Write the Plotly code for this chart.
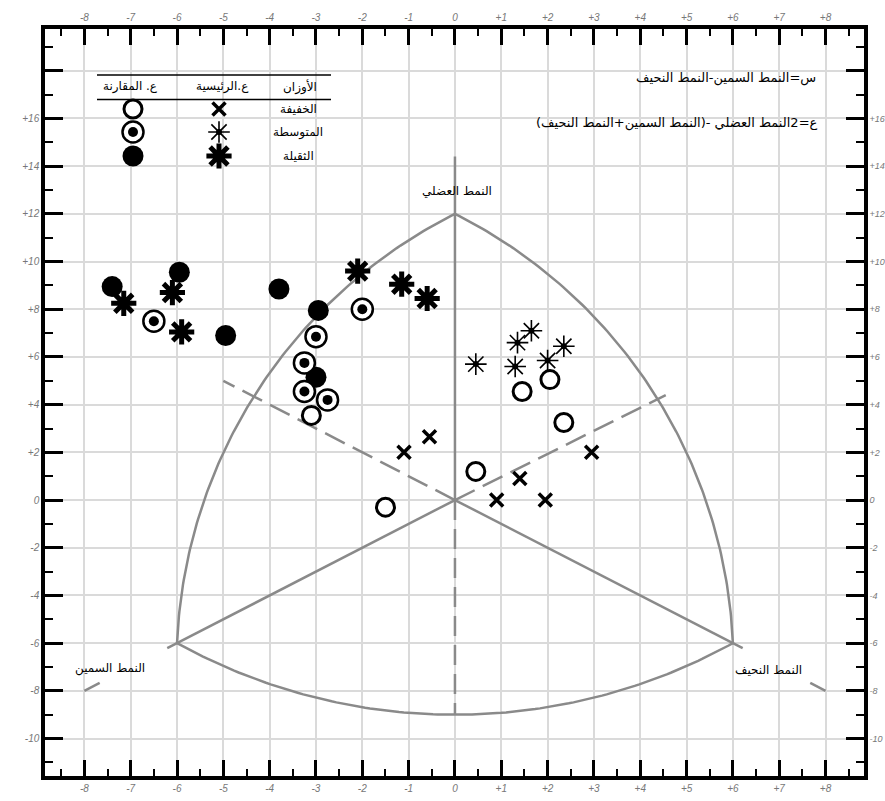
import math
import numpy as np
import plotly.graph_objects as go

# ---------------- data (X = ecto - endo, Y = 2*meso - (endo + ecto)) ----------------
light_main_x = [-1.1, -0.55, 0.9, 1.4, 1.95, 2.95]
light_main_y = [2.0, 2.65, 0.0, 0.9, 0.0, 2.0]
light_comp_x = [-1.5, -3.1, 0.45, 1.45, 2.05, 2.35]
light_comp_y = [-0.3, 3.55, 1.2, 4.55, 5.05, 3.25]
medium_main_x = [0.45, 1.3, 1.35, 1.65, 2.0, 2.35]
medium_main_y = [5.7, 5.6, 6.6, 7.1, 5.85, 6.45]
medium_comp_x = [-6.5, -3.0, -3.25, -3.25, -2.75, -2.0]
medium_comp_y = [7.5, 6.85, 5.75, 4.55, 4.2, 8.0]
heavy_main_x = [-7.15, -6.1, -5.9, -2.1, -1.15, -0.6]
heavy_main_y = [8.25, 8.7, 7.05, 9.6, 9.05, 8.45]
heavy_comp_x = [-7.4, -5.95, -4.95, -3.8, -2.95, -3.0]
heavy_comp_y = [8.95, 9.55, 6.9, 8.85, 7.95, 5.15]

x_tick_vals = list(range(-8, 9))
x_tick_text = ["-8", "-7", "-6", "-5", "-4", "-3", "-2", "-1", "0",
               "+1", "+2", "+3", "+4", "+5", "+6", "+7", "+8"]
y_tick_vals = list(range(-10, 19, 2))
y_tick_text = ["-10", "-8", "-6", "-4", "-2", "0", "+2", "+4", "+6", "+8",
               "+10", "+12", "+14", "+16", ""]

# somatochart frame (vertices and arc mid points)
apex = (0, 12)
left_v = (-6, -6)
right_v = (6, -6)
bottom_mid = (0, -9)
left_mid = (-3.13, 7.42)
right_mid = (3.13, 7.42)

# texts
legend_header = ["الأوزان", "ع.الرئيسية", "ع. المقارنة"]
legend_rows = ["الخفيفة", "المتوسطة", "الثقيلة"]
formula_1 = "س=النمط السمين-النمط النحيف"
formula_2 = "ع=2النمط العضلي -(النمط السمين+النمط النحيف)"
label_meso = "النمط العضلي"
label_endo = "النمط السمين"
label_ecto = "النمط النحيف"

AR_FONT = "DejaVu Sans"
GRAY = "#8a8a8a"
RLE, PDF = "\u202b", "\u202c"


def rtl(s):
    return RLE + s + PDF


# ---------------- layout geometry ----------------
W, H = 885, 801
L, R, T, B = 45, 21, 29, 25
XR = [-8.85, 8.83]
YR = [-11.57, 19.75]
K = ((H - T - B) / (YR[1] - YR[0])) / ((W - L - R) / (XR[1] - XR[0]))


def P(px, py):
    return (px - L) / (W - L - R), (H - B - py) / (H - T - B)


def arc(p0, pm, p1, n=120):
    x0, y0 = p0[0], p0[1] * K
    xm, ym = pm[0], pm[1] * K
    x1, y1 = p1[0], p1[1] * K
    d = 2 * (x0 * (ym - y1) + xm * (y1 - y0) + x1 * (y0 - ym))
    s0, sm, s1 = x0**2 + y0**2, xm**2 + ym**2, x1**2 + y1**2
    ux = (s0 * (ym - y1) + sm * (y1 - y0) + s1 * (y0 - ym)) / d
    uy = (s0 * (x1 - xm) + sm * (x0 - x1) + s1 * (xm - x0)) / d
    r = math.hypot(x0 - ux, y0 - uy)
    a0 = math.atan2(y0 - uy, x0 - ux)
    a1 = math.atan2(y1 - uy, x1 - ux)
    am = math.atan2(ym - uy, xm - ux)
    d1 = (a1 - a0) % (2 * math.pi)
    dm = (am - a0) % (2 * math.pi)
    if dm < d1:
        angs = a0 + np.linspace(0, 1, n) * d1
    else:
        angs = a0 - np.linspace(0, 1, n) * (2 * math.pi - d1)
    xs = ux + r * np.cos(angs)
    ys = (uy + r * np.sin(angs)) / K
    return xs, ys


fig = go.Figure()


def seg(xs, ys, dash="solid", width=2.5):
    fig.add_trace(go.Scatter(x=xs, y=ys, mode="lines",
                             line=dict(color=GRAY, width=width, dash=dash),
                             hoverinfo="skip", showlegend=False))


# arcs
for a, m, b in [(left_v, bottom_mid, right_v), (left_v, left_mid, apex), (right_v, right_mid, apex)]:
    xs, ys = arc(a, m, b)
    seg(xs, ys)

# axes of the somatochart
seg([0, 0], [0, 14.4])
seg([0, 0], [0, bottom_mid[1]], dash="20px,9px")
seg([0, left_v[0]], [0, left_v[1]])
seg([0, right_v[0]], [0, right_v[1]])
seg([0, -5.0], [0, 5.0], dash="22px,9px")
seg([0, 4.55], [0, 4.4], dash="22px,9px")
seg([left_v[0], -8.0], [left_v[1], -8.0], dash="11px,76px,20px")
seg([right_v[0], 8.0], [right_v[1], -8.0], dash="11px,76px,20px")

# ---------------- marker styles ----------------
S_HEAVY_COMP = [dict(symbol="circle", size=21, color="black")]
S_HEAVY_MAIN = [dict(symbol="asterisk-open", size=21, color="black", line=dict(color="black", width=5)),
                dict(symbol="circle", size=10, color="black")]
S_LIGHT_COMP = [dict(symbol="circle", size=18, color="white", line=dict(color="black", width=3))]
S_LIGHT_MAIN = [dict(symbol="x-thin-open", size=13, color="black", line=dict(color="black", width=3.5))]
S_MED_MAIN = [dict(symbol="asterisk-open", size=18, color="black", line=dict(color="black", width=1.6)),
              dict(symbol="circle", size=6, color="black")]
S_MED_COMP = [dict(symbol="circle", size=21, color="white", line=dict(color="black", width=2.5)),
              dict(symbol="circle", size=10, color="black")]

for xs, ys, styles in [(heavy_comp_x, heavy_comp_y, S_HEAVY_COMP),
                       (heavy_main_x, heavy_main_y, S_HEAVY_MAIN),
                       (light_comp_x, light_comp_y, S_LIGHT_COMP),
                       (light_main_x, light_main_y, S_LIGHT_MAIN),
                       (medium_main_x, medium_main_y, S_MED_MAIN),
                       (medium_comp_x, medium_comp_y, S_MED_COMP)]:
    for st in styles:
        fig.add_trace(go.Scatter(x=xs, y=ys, mode="markers", marker=st, showlegend=False))

# invisible trace so that the mirrored axes render
fig.add_trace(go.Scatter(x=[0], y=[0], xaxis="x2", yaxis="y2", mode="markers",
                         marker=dict(opacity=0), showlegend=False, hoverinfo="skip"))

# ---------------- legend table (on a 0..1 overlay) ----------------
col_text, col_main, col_comp = 298, 219, 133
row_y = [109, 132, 156]
leg_main = [S_LIGHT_MAIN, S_MED_MAIN, S_HEAVY_MAIN]
leg_comp = [S_LIGHT_COMP, S_MED_COMP, S_HEAVY_COMP]
for i, ry in enumerate(row_y):
    for col, styles in ((col_main, leg_main[i]), (col_comp, leg_comp[i])):
        px, py = P(col, ry)
        for st in styles:
            fig.add_trace(go.Scatter(x=[px], y=[py], xaxis="x3", yaxis="y3", mode="markers",
                                     marker=st, showlegend=False, hoverinfo="skip"))


def note(txt, px, py, size=12, xanchor="center"):
    ax, ay = P(px, py)
    return dict(x=ax, y=ay, xref="paper", yref="paper", text=rtl(txt),
                xanchor=xanchor, yanchor="middle", showarrow=False,
                font=dict(family=AR_FONT, size=size, color="black"))


annotations = []
for txt, cx in zip(legend_header, [300, 222, 130]):
    annotations.append(note(txt, cx, 87, 12))
for txt, ry in zip(legend_rows, row_y):
    annotations.append(note(txt, col_text, ry, 12))
annotations.append(note(formula_1, 818, 78, 13, "right"))
annotations.append(note(formula_2, 820, 123, 13, "right"))
annotations.append(note(label_meso, 457, 191, 12))
annotations.append(note(label_endo, 110, 668, 12))
annotations.append(note(label_ecto, 768, 670, 12))

shapes = []
for py in (75, 99.5):
    x0, y0 = P(97, py)
    x1, _ = P(331, py)
    shapes.append(dict(type="line", xref="paper", yref="paper", x0=x0, x1=x1, y0=y0, y1=y0,
                       line=dict(color="black", width=1.5)))

tick_font = dict(family="Liberation Sans", size=10, color="#777777", style="italic")
tick_font_r = dict(family="Liberation Sans", size=9, color="#777777", style="italic")

xcommon = dict(range=XR, tickvals=x_tick_vals, ticktext=x_tick_text, ticks="inside",
               ticklen=16, tickwidth=2.5, tickcolor="black", showline=True, linewidth=3.5,
               linecolor="black", zeroline=False, tickfont=tick_font, automargin=False,
               minor=dict(tickvals=[v + 0.5 for v in range(-9, 9)], ticks="inside",
                          ticklen=7, tickwidth=1.5, tickcolor="black", showgrid=False))
ycommon = dict(range=YR, tickvals=y_tick_vals, ticktext=y_tick_text, ticks="inside",
               ticklen=18, tickwidth=2.5, tickcolor="black", showline=True, linewidth=3.5,
               linecolor="black", zeroline=False, automargin=False,
               minor=dict(tickvals=list(range(-11, 20, 2)), ticks="inside",
                          ticklen=8, tickwidth=1.5, tickcolor="black", showgrid=False))

fig.update_layout(
    width=W, height=H,
    margin=dict(l=L, r=R, t=T, b=B, pad=0, autoexpand=False),
    paper_bgcolor="white", plot_bgcolor="white",
    showlegend=False,
    xaxis=dict(**xcommon, showgrid=True, gridcolor="#dadada", gridwidth=2, side="bottom"),
    yaxis=dict(**ycommon, tickfont=tick_font, showgrid=True, gridcolor="#dadada", gridwidth=2,
               side="left"),
    xaxis2=dict(**xcommon, showgrid=False, side="top", overlaying="x", anchor="y2"),
    yaxis2=dict(**ycommon, tickfont=tick_font_r, showgrid=False, side="right", overlaying="y",
                anchor="x2"),
    xaxis3=dict(range=[0, 1], overlaying="x", visible=False, anchor="y3", automargin=False),
    yaxis3=dict(range=[0, 1], overlaying="y", visible=False, anchor="x3", automargin=False),
    annotations=annotations,
    shapes=shapes,
)

fig.write_html("out.html", config={"displayModeBar": False},
               post_script="document.body.style.margin='0';document.body.style.padding='0';")
